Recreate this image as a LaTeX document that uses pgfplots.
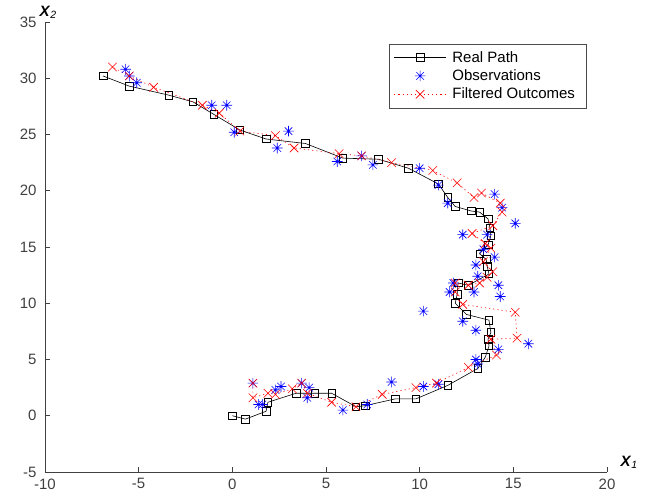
\documentclass[border=0pt]{standalone}
\usepackage{fontspec}
\setmainfont{Liberation Sans}
\usepackage{pgfplots}
\pgfplotsset{compat=1.18}
\usetikzlibrary{calc}
\newcommand\f{\fontsize{15}{18}\selectfont}

% MATLAB-style asterisk: a plus and a cross on top of each other
\pgfdeclareplotmark{mstar}{%
  \pgfpathmoveto{\pgfqpoint{-\pgfplotmarksize}{0pt}}%
  \pgfpathlineto{\pgfqpoint{\pgfplotmarksize}{0pt}}%
  \pgfpathmoveto{\pgfqpoint{0pt}{-\pgfplotmarksize}}%
  \pgfpathlineto{\pgfqpoint{0pt}{\pgfplotmarksize}}%
  \pgfpathmoveto{\pgfpointpolar{45}{\pgfplotmarksize}}%
  \pgfpathlineto{\pgfpointpolar{225}{\pgfplotmarksize}}%
  \pgfpathmoveto{\pgfpointpolar{135}{\pgfplotmarksize}}%
  \pgfpathlineto{\pgfpointpolar{315}{\pgfplotmarksize}}%
  \pgfusepathqstroke}

\pgfplotstableread{
x y
0 0
0.7 -0.3
1.8 0.4
1.9 1.2
3.4 2.0
4.4 2.0
5.3 2.0
6.6 0.8
7.1 0.9
8.7 1.5
9.8 1.5
11.5 2.7
13.1 4.2
13.5 5.2
13.7 6.2
13.65 6.8
13.8 7.4
13.7 8.5
12.5 9.0
11.9 10.0
12.0 10.8
12.05 11.8
12.6 11.6
13.7 12.6
13.6 13.3
13.55 13.9
13.2 14.4
13.65 15.2
13.8 16.0
13.75 16.7
13.65 17.5
13.2 18.1
12.75 18.2
11.9 18.6
11.5 19.4
11.0 20.6
9.4 22.0
7.8 22.8
5.9 22.9
3.9 24.2
1.8 24.6
0.4 25.4
-1.0 26.8
-2.1 27.9
-3.4 28.5
-5.5 29.3
-6.9 30.2
}\realpath

\pgfplotstableread{
x y
1.1 2.9
1.4 1.0
1.6 1.0
2.3 2.3
2.6 2.6
3.7 2.9
4.1 2.5
4.0 1.6
5.9 0.5
7.2 1.0
8.5 3.0
10.2 2.6
11.0 2.8
13.0 5.0
13.1 4.6
14.2 5.9
15.8 6.4
13.0 7.6
12.3 8.4
10.2 9.3
11.6 11.0
11.8 11.8
12.9 11.0
14.3 10.6
14.2 11.6
13.1 12.4
13.0 13.4
14.0 14.1
13.4 14.8
12.3 16.1
13.6 16.1
15.1 17.1
14.4 18.5
14.0 19.7
11.5 18.9
11.0 20.5
10.0 22.0
7.5 22.3
6.9 23.1
5.6 22.6
2.4 23.8
3.0 25.3
0.1 25.2
-0.3 27.6
-1.1 27.6
-5.1 29.6
-5.5 30.2
-5.7 30.8
}\observ

\pgfplotstableread{
x y
1.1 2.9
1.1 1.6
1.9 2.0
2.3 1.9
3.2 2.4
3.7 2.9
4.0 2.0
5.3 1.2
6.6 0.8
8.0 1.9
9.8 2.5
10.9 2.9
12.6 4.3
14.1 5.4
13.8 6.8
15.2 6.9
15.1 9.2
12.3 9.9
11.9 11.0
11.9 11.8
12.6 11.6
13.2 11.8
13.6 12.3
13.9 12.8
13.4 13.7
13.8 14.9
13.5 15.3
12.8 16.2
13.9 16.9
14.4 18.1
14.3 18.9
13.3 19.8
12.9 19.4
12.0 20.7
10.7 21.8
8.5 22.5
6.9 23.1
5.7 23.3
3.3 23.8
2.3 24.9
0.4 25.3
-0.7 26.9
-1.6 27.6
-4.2 29.2
-5.5 30.2
-6.4 31.0
}\filtered

\begin{document}
\begin{tikzpicture}
\begin{axis}[
    width=562pt, height=450pt, scale only axis,
    xmin=-10, xmax=20, ymin=-5, ymax=35,
    xtick={-10,-5,...,20}, ytick={-5,0,...,35},
    axis lines*=left,
    tick align=inside,
    major tick length=4.5pt,
    axis line style={black!75, line width=0.5pt},
    tick style={black!75, line width=0.5pt},
    tick label style={font=\f, text=black!75},
    /pgf/number format/assume math mode=true,
    yticklabel style={xshift=-5pt},
    xticklabel style={yshift=-3pt},
    xlabel={\textbf{\textit{X}}\textsubscript{\textit{1}}},
    ylabel={\textbf{\textit{X}}\textsubscript{\textit{2}}},
    every axis x label/.style={at={(axis description cs:1,0)}, anchor=south west, xshift=10pt, font=\f},
    every axis y label/.style={at={(axis description cs:0,1)}, anchor=south west, xshift=-9pt, font=\f},
    legend style={at={(0.963,0.952)}, anchor=north east, font=\f, draw=black!70,
        line width=0.5pt, row sep=1pt, inner xsep=5pt, inner ysep=5pt,
        nodes={inner xsep=6pt, inner ysep=2.5pt},
        cells={anchor=west}},
    legend image code/.code={\draw[mark repeat=2,mark phase=2] plot coordinates {(0pt,0pt) (26pt,0pt) (52pt,0pt)};},
]
\addplot[black, line width=0.6pt, mark=square, mark size=3.8pt,
    mark options={solid, line width=0.6pt}] table {\realpath};
\addlegendentry{Real Path}
\addplot[only marks, blue, mark=mstar, mark size=5.3pt, mark options={line width=0.6pt},
    legend image code/.code={\draw[only marks,mark repeat=2,mark phase=2] plot coordinates {(0pt,0pt) (26pt,0pt) (52pt,0pt)};}]
    table {\observ};
\addlegendentry{Observations}
\addplot[red, line width=0.6pt, dash pattern=on 1.2pt off 3pt, mark=x, mark size=6pt,
    mark options={solid, line width=0.6pt}] table {\filtered};
\addlegendentry{Filtered Outcomes}
\end{axis}
\path ($(current axis.south west)+(-45pt,-30pt)$) rectangle ($(current axis.north east)+(58pt,22pt)$);
\end{tikzpicture}
\end{document}
